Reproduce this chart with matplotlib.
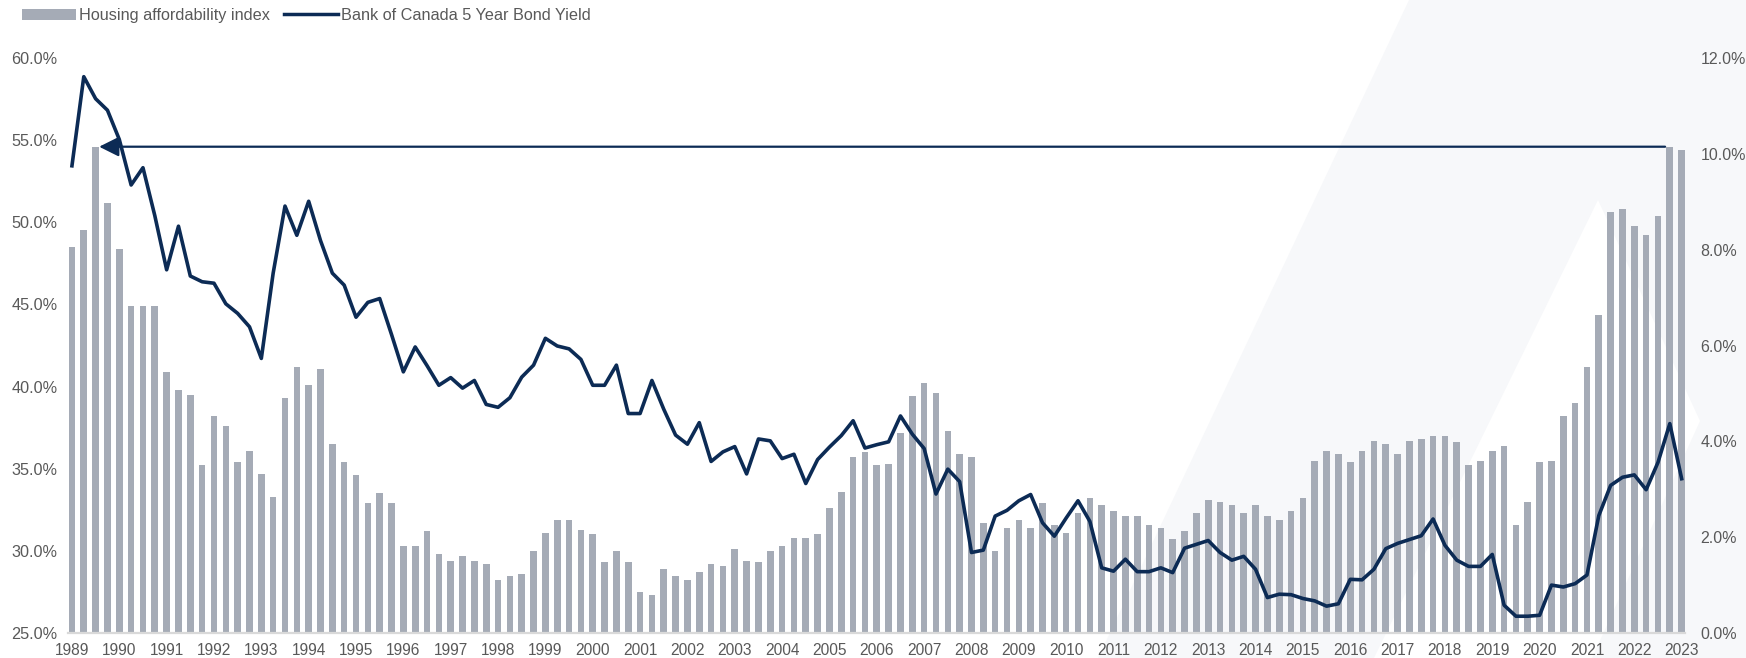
import numpy as np
import matplotlib
matplotlib.use('Agg')
import matplotlib.pyplot as plt
from matplotlib.patches import Patch
from matplotlib.lines import Line2D
from matplotlib.ticker import FuncFormatter

# quarterly series, 1989Q1 .. 2023Q1
quarters = [f'{y}Q{q}' for y in range(1989, 2023) for q in range(1, 5)] + ['2023Q1']
year_labels = [str(y) for y in range(1989, 2024)]

# housing affordability index (% of income), left axis
hai = [
    48.5, 49.55, 54.6, 51.2,   # 1989
    48.4, 44.9, 44.9, 44.9,    # 1990
    40.9, 39.8, 39.5, 35.2,    # 1991
    38.2, 37.6, 35.4, 36.1,    # 1992
    34.7, 33.3, 39.3, 41.2,    # 1993
    40.1, 41.1, 36.5, 35.4,    # 1994
    34.6, 32.9, 33.5, 32.9,    # 1995
    30.3, 30.3, 31.2, 29.8,    # 1996
    29.4, 29.7, 29.4, 29.2,    # 1997
    28.2, 28.5, 28.6, 30.0,    # 1998
    31.1, 31.9, 31.9, 31.3,    # 1999
    31.0, 29.3, 30.0, 29.3,    # 2000
    27.5, 27.3, 28.9, 28.5,    # 2001
    28.2, 28.7, 29.2, 29.1,    # 2002
    30.1, 29.4, 29.3, 30.0,    # 2003
    30.3, 30.8, 30.8, 31.0,    # 2004
    32.6, 33.6, 35.7, 36.0,    # 2005
    35.2, 35.3, 37.2, 39.4,    # 2006
    40.2, 39.6, 37.3, 35.9,    # 2007
    35.7, 31.7, 30.0, 31.4,    # 2008
    31.9, 31.4, 32.9, 31.6,    # 2009
    31.1, 32.3, 33.2, 32.8,    # 2010
    32.4, 32.1, 32.1, 31.6,    # 2011
    31.4, 30.7, 31.2, 32.3,    # 2012
    33.1, 33.0, 32.8, 32.3,    # 2013
    32.8, 32.1, 31.9, 32.4,    # 2014
    33.2, 35.5, 36.1, 35.9,    # 2015
    35.4, 36.1, 36.7, 36.5,    # 2016
    35.9, 36.7, 36.8, 37.0,    # 2017
    37.0, 36.6, 35.2, 35.5,    # 2018
    36.1, 36.4, 31.6, 33.0,    # 2019
    35.4, 35.5, 38.2, 39.0,    # 2020
    41.2, 44.35, 50.6, 50.8,   # 2021
    49.8, 49.2, 50.4, 54.6,    # 2022
    54.4,                      # 2023
]

# Bank of Canada 5 year bond yield (%), right axis
bond_5y = [
    9.75, 11.61, 11.15, 10.91,
    10.3, 9.35, 9.71, 8.71,
    7.58, 8.49, 7.45, 7.33,
    7.30, 6.87, 6.67, 6.39,
    5.73, 7.51, 8.91, 8.30,
    9.01, 8.19, 7.51, 7.26,
    6.59, 6.90, 6.98, 6.23,
    5.45, 5.97, 5.58, 5.17,
    5.33, 5.11, 5.27, 4.77,
    4.71, 4.91, 5.34, 5.59,
    6.15, 5.99, 5.93, 5.71,
    5.17, 5.17, 5.59, 4.58,
    4.58, 5.27, 4.67, 4.13,
    3.94, 4.39, 3.58, 3.78,
    3.89, 3.32, 4.05, 4.01,
    3.64, 3.73, 3.12, 3.62,
    3.88, 4.12, 4.43, 3.86,
    3.93, 3.99, 4.53, 4.15,
    3.85, 2.90, 3.42, 3.16,
    1.68, 1.73, 2.44, 2.56,
    2.76, 2.89, 2.30, 2.02,
    2.40, 2.76, 2.33, 1.36,
    1.29, 1.54, 1.28, 1.28,
    1.36, 1.26, 1.77, 1.85,
    1.93, 1.68, 1.52, 1.60,
    1.33, 0.74, 0.81, 0.80,
    0.72, 0.67, 0.56, 0.61,
    1.12, 1.11, 1.33, 1.76,
    1.87, 1.95, 2.03, 2.38,
    1.83, 1.52, 1.39, 1.39,
    1.64, 0.58, 0.35, 0.35,
    0.37, 1.00, 0.96, 1.03,
    1.21, 2.45, 3.08, 3.25,
    3.30, 2.99, 3.56, 4.37,
    3.22,
]

bar_color = '#a5abb6'
line_color = '#0c2b55'
text_color = '#595959'

plt.rcParams['font.family'] = ['Liberation Sans', 'DejaVu Sans']

W, H = 1746, 658
fig = plt.figure(figsize=(W / 100, H / 100), dpi=100)

# faint background shapes
bg = fig.add_axes([0, 0, 1, 1], zorder=-10)
bg.set_xlim(0, W)
bg.set_ylim(H, 0)
bg.axis('off')
bg.fill([1098, 1409, W, W], [H, 0, 0, H], color='#f7f8fa', lw=0)
bg.fill([1598, 1700, 1592, 1374], [200, 421, H, H], color='white', lw=0)

x = np.arange(len(quarters))
left_px, right_px, top_px, bot_px = 68.4, 1685.2, 58, 633
ax = fig.add_axes([left_px / W, (H - bot_px) / H, (right_px - left_px) / W, (bot_px - top_px) / H])
ax.set_facecolor('none')

ax.bar(x, hai, width=0.56, color=bar_color, zorder=2)
ax.set_xlim(-0.3, len(x) - 1 + 0.3)
ax.set_ylim(25, 60)
ax.set_yticks(np.arange(25, 60.1, 5))
ax.yaxis.set_major_formatter(FuncFormatter(lambda v, p: f'{v:.1f}%'))
ax.set_xticks(x[::4])
ax.set_xticklabels(year_labels)

for s in ['top', 'left', 'right']:
    ax.spines[s].set_visible(False)
ax.spines['bottom'].set_color('#d9d9d9')
ax.spines['bottom'].set_linewidth(1.6)
ax.spines['bottom'].set_zorder(3)
ax.tick_params(axis='y', length=0, pad=8, labelsize=11.7, labelcolor=text_color)
ax.tick_params(axis='x', length=0, pad=7, labelsize=11.2, labelcolor=text_color)

# arrow from the latest peak back to 1989
ax.annotate('', xy=(2.3, hai[-2]), xytext=(len(x) - 2 - 0.4, hai[-2]),
            arrowprops=dict(arrowstyle='-|>,head_length=1.0,head_width=0.5',
                            mutation_scale=12, color=line_color, lw=1.6,
                            shrinkA=0, shrinkB=0), zorder=4)

ax2 = ax.twinx()
ax2.plot(x, bond_5y, color=line_color, lw=2.6, zorder=5)
ax2.set_ylim(0, 12)
ax2.set_yticks(np.arange(0, 12.1, 2))
ax2.yaxis.set_major_formatter(FuncFormatter(lambda v, p: f'{v:.1f}%'))
for s in ax2.spines.values():
    s.set_visible(False)
ax2.tick_params(axis='y', length=0, pad=11, labelsize=11.5, labelcolor=text_color)

handles = [Patch(facecolor=bar_color, edgecolor='none'),
           Line2D([0], [0], color=line_color, lw=2.5)]
fig.legend(handles, ['Housing affordability index', 'Bank of Canada 5 Year Bond Yield'],
           loc='upper left', bbox_to_anchor=(22 / W, 1 - 8 / H), ncol=2, frameon=False,
           fontsize=11.7, handlelength=3.3, handleheight=0.7, handletextpad=0.2,
           columnspacing=0.9, borderpad=0, borderaxespad=0, labelcolor=text_color)

fig.savefig('out.png', dpi=100)
